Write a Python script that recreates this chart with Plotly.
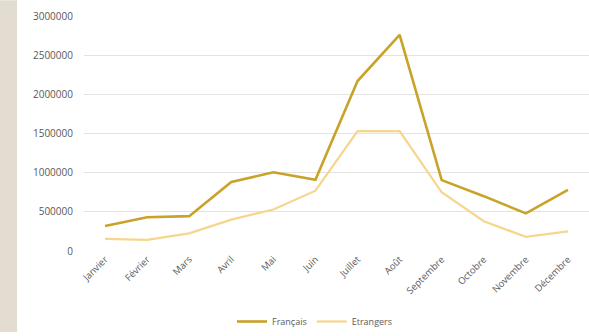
import plotly.graph_objects as go

mois = ["Janvier", "Février", "Mars", "Avril", "Mai", "Juin", "Juillet",
        "Août", "Septembre", "Octobre", "Novembre", "Décembre"]
francais = [320000, 430000, 445000, 880000, 1005000, 910000, 2170000,
            2760000, 905000, 700000, 480000, 780000]
etrangers = [155000, 142000, 225000, 400000, 530000, 770000, 1530000,
             1530000, 750000, 380000, 180000, 250000]
y_ticks = [0, 500000, 1000000, 1500000, 2000000, 2500000, 3000000]

W, H = 589, 336
ml, mr, mt, mb = 84, 0, 16, 82
pw = W - ml - mr
ph = H - mt - mb

fig = go.Figure()
fig.add_trace(go.Scatter(x=mois, y=francais, name="Français", mode="lines",
                         line=dict(color="#C9A228", width=2.6)))
fig.add_trace(go.Scatter(x=mois, y=etrangers, name="Etrangers", mode="lines",
                         line=dict(color="#F6D68C", width=2.2)))

fig.add_shape(type="rect", xref="paper", yref="paper",
              x0=-ml / pw, x1=(17 - ml) / pw, y0=-mb / ph, y1=1 + mt / ph,
              fillcolor="#E3DCD0", line=dict(width=0), layer="below")

fig.update_layout(
    width=W, height=H,
    margin=dict(l=ml, r=mr, t=mt, b=mb),
    paper_bgcolor="white", plot_bgcolor="white",
    font=dict(family="Open Sans, Liberation Sans, sans-serif", color="#595959", size=9),
    showlegend=True,
    legend=dict(orientation="h", x=(315 - ml) / pw, xanchor="center",
                y=(254 - 326) / ph, yanchor="middle",
                font=dict(size=9, color="#595959"), itemwidth=30,
                bgcolor="rgba(0,0,0,0)"),
    xaxis=dict(type="category", tickangle=-45, showgrid=False, zeroline=False,
               showline=False, ticks="", tickfont=dict(size=9.5, color="#595959"),
               range=[-0.5, 11.5]),
    yaxis=dict(range=[0, 3000000], tickvals=y_ticks,
               ticktext=[str(v) for v in y_ticks],
               showgrid=True, gridcolor="#E3E3E3", gridwidth=1,
               zeroline=False, showline=False, ticks="",
               ticklabelstandoff=10,
               tickfont=dict(size=10, color="#595959")),
)

fig.write_html("out.html")
